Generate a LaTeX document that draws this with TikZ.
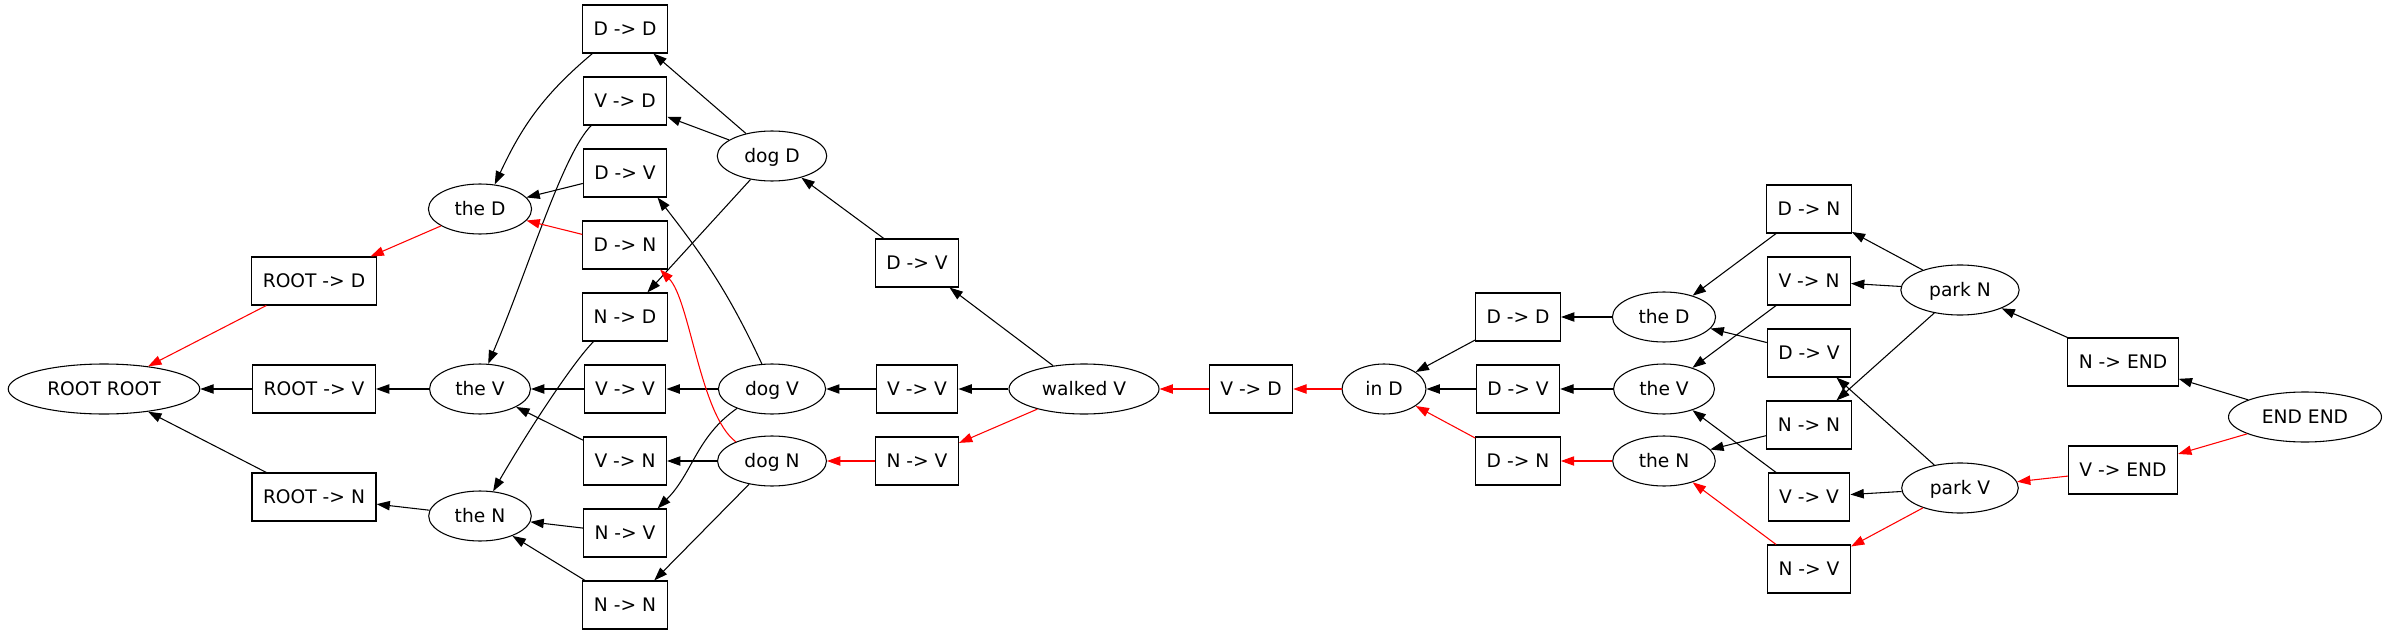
\documentclass[tikz,border=0pt]{standalone}
\usepackage{fontspec}
\setmainfont{DejaVu Sans}
\usetikzlibrary{arrows.meta,shapes.geometric}

\begin{document}
\begin{tikzpicture}[x=0.75pt,y=0.75pt,>={Triangle[length=10pt,width=7pt]},
      font=\fontsize{14pt}{16pt}\selectfont,
      every node/.style={line width=0.8pt,text height=10.2pt,text depth=0pt},
      box/.style={draw,rectangle,inner xsep=8.25pt,minimum height=36pt},
      st/.style={draw,ellipse,inner xsep=8.25pt,inner ysep=3pt,minimum height=37.5pt},
      lnk/.style={->,line width=0.8pt},
      best/.style={lnk,red}]
      \useasboundingbox (0,0) rectangle (2389,-635);
      \node[st] (rr) at (104,-389) {ROOT ROOT};
      \node[box] (rd) at (314,-281) {ROOT -> D};
      \node[box] (rv) at (314,-389) {ROOT -> V};
      \node[box] (rn) at (314,-497) {ROOT -> N};
      \node[st] (theD) at (480,-209) {the D};
      \node[st] (theV) at (480,-389) {the V};
      \node[st] (theN) at (480,-516) {the N};
      \node[box] (tDD) at (625,-29) {D -> D};
      \node[box] (tVD) at (625,-101) {V -> D};
      \node[box] (tDV) at (625,-173) {D -> V};
      \node[box] (tDN) at (625,-245) {D -> N};
      \node[box] (tND) at (625,-317) {N -> D};
      \node[box] (tVV) at (625,-389) {V -> V};
      \node[box] (tVN) at (625,-461) {V -> N};
      \node[box] (tNV) at (625,-533) {N -> V};
      \node[box] (tNN) at (625,-605) {N -> N};
      \node[st] (dogD) at (772,-156) {dog D};
      \node[st] (dogV) at (772,-389) {dog V};
      \node[st] (dogN) at (772,-461) {dog N};
      \node[box] (wDV) at (917,-263) {D -> V};
      \node[box] (wVV) at (917,-389) {V -> V};
      \node[box] (wNV) at (917,-461) {N -> V};
      \node[st] (walkedV) at (1084,-389) {walked V};
      \node[box] (iVD) at (1251,-389) {V -> D};
      \node[st] (inD) at (1384,-389) {in D};
      \node[box] (iDD) at (1518,-317) {D -> D};
      \node[box] (iDV) at (1518,-389) {D -> V};
      \node[box] (iDN) at (1518,-461) {D -> N};
      \node[st] (theD2) at (1664,-317) {the D};
      \node[st] (theV2) at (1664,-389) {the V};
      \node[st] (theN2) at (1664,-461) {the N};
      \node[box] (pDN) at (1809,-209) {D -> N};
      \node[box] (pVN) at (1809,-281) {V -> N};
      \node[box] (pDV) at (1809,-353) {D -> V};
      \node[box] (pNN) at (1809,-425) {N -> N};
      \node[box] (pVV) at (1809,-497) {V -> V};
      \node[box] (pNV) at (1809,-569) {N -> V};
      \node[st] (parkN) at (1960,-290) {park N};
      \node[st] (parkV) at (1960,-488) {park V};
      \node[box] (eN) at (2123,-362) {N -> END};
      \node[box] (eV) at (2123,-470) {V -> END};
      \node[st] (endE) at (2305,-417) {END END};
      \draw[best] (rd) -- (rr);
      \draw[lnk] (rv) -- (rr);
      \draw[lnk] (rn) -- (rr);
      \draw[best] (theD) -- (rd);
      \draw[lnk] (theV) -- (rv);
      \draw[lnk] (theN) -- (rn);
      \draw[lnk] (tDD.-143) to[out=-140,in=65] (theD.59);
      \draw[lnk] (tVD.-144) to[out=-135,in=67,out looseness=0.4] (theV.72);
      \draw[lnk] (tDV) -- (theD);
      \draw[best] (tDN) -- (theD);
      \draw[lnk] (tND.-142) to[out=-135,in=60,out looseness=0.4] (theN.62);
      \draw[lnk] (tVV) -- (theV);
      \draw[lnk] (tVN) -- (theV);
      \draw[lnk] (tNV) -- (theN);
      \draw[lnk] (tNN) -- (theN);
      \draw[lnk] (dogD) -- (tDD);
      \draw[lnk] (dogD) -- (tVD);
      \draw[lnk] (dogD) -- (tND);
      \draw[lnk] (dogV.112) to[out=115,in=-52] (tDV.-37);
      \draw[lnk] (dogV) -- (tVV);
      \draw[lnk] (dogV.-151) to[out=-145,in=45] (tNV.37);
      \draw[best] (dogN.152) .. controls (700,-415) and (690,-300) .. (tDN.-35);
      \draw[lnk] (dogN) -- (tVN);
      \draw[lnk] (dogN) -- (tNN.40);
      \draw[lnk] (wDV) -- (dogD);
      \draw[lnk] (wVV) -- (dogV);
      \draw[best] (wNV) -- (dogN);
      \draw[lnk] (walkedV) -- (wDV);
      \draw[lnk] (walkedV) -- (wVV);
      \draw[best] (walkedV) -- (wNV);
      \draw[best] (iVD) -- (walkedV);
      \draw[best] (inD) -- (iVD);
      \draw[lnk] (iDD) -- (inD);
      \draw[lnk] (iDV) -- (inD);
      \draw[best] (iDN) -- (inD);
      \draw[lnk] (theD2) -- (iDD);
      \draw[lnk] (theV2) -- (iDV);
      \draw[best] (theN2) -- (iDN);
      \draw[lnk] (pDN) -- (theD2);
      \draw[lnk] (pVN) -- (theV2);
      \draw[lnk] (pDV) -- (theD2);
      \draw[lnk] (pNN) -- (theN2);
      \draw[lnk] (pVV) -- (theV2);
      \draw[best] (pNV) -- (theN2);
      \draw[lnk] (parkN) -- (pDN);
      \draw[lnk] (parkN) -- (pVN);
      \draw[lnk] (parkN) -- (pNN);
      \draw[lnk] (parkV) -- (pDV);
      \draw[lnk] (parkV) -- (pVV);
      \draw[best] (parkV) -- (pNV);
      \draw[lnk] (eN) -- (parkN);
      \draw[best] (eV) -- (parkV);
      \draw[lnk] (endE) -- (eN);
      \draw[best] (endE) -- (eV);
    \end{tikzpicture}
\end{document}
